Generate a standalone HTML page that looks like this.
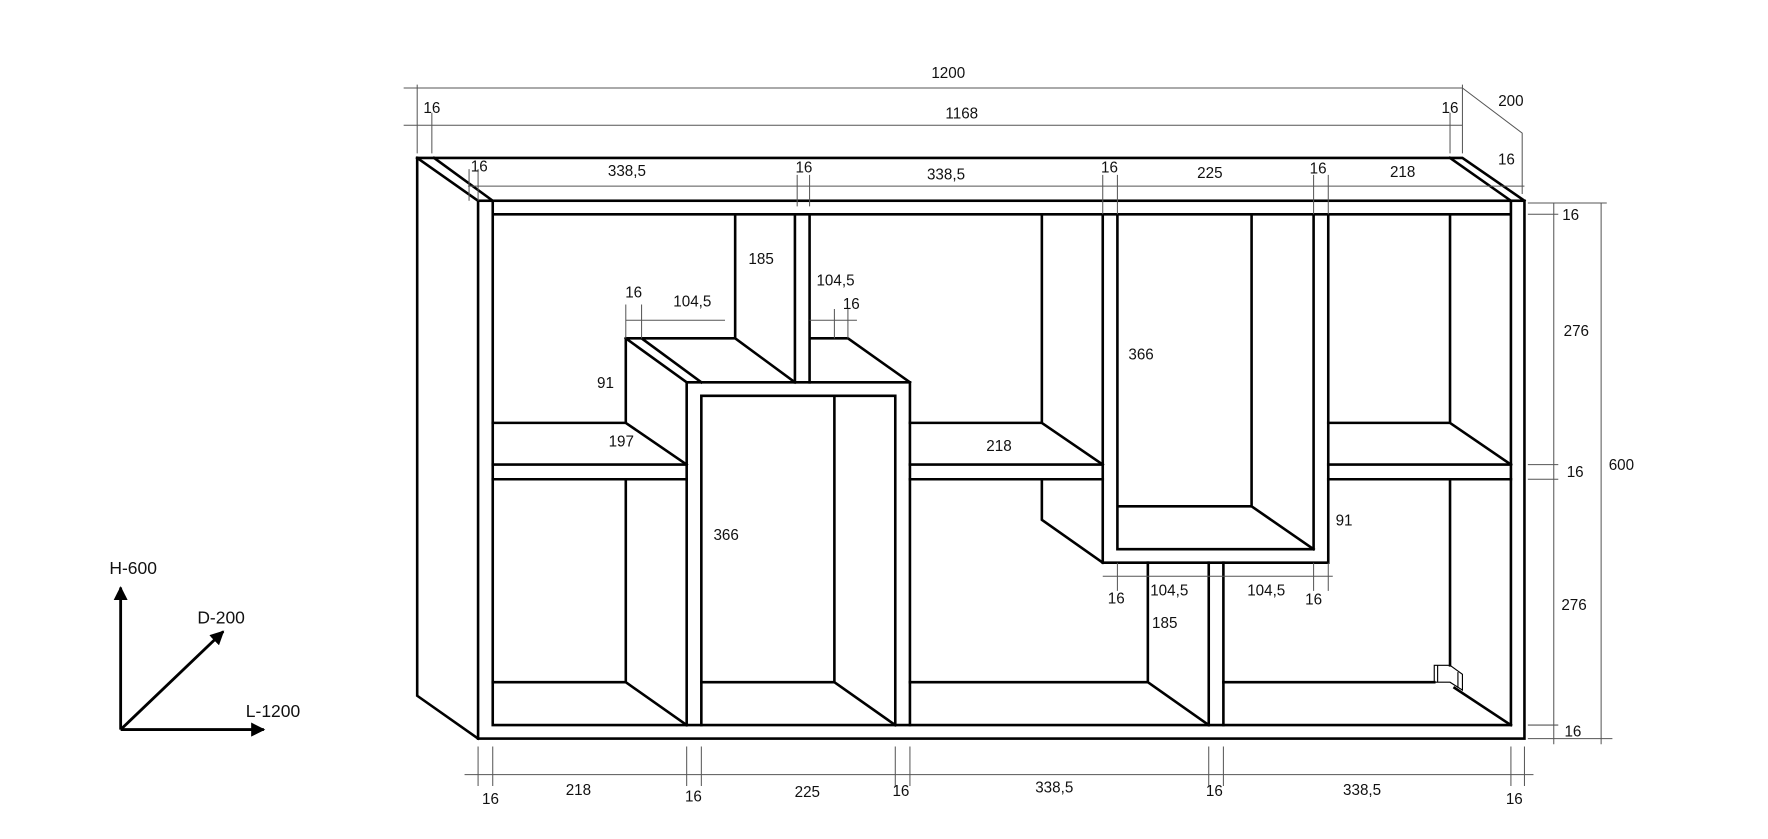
<!DOCTYPE html>
<html><head><meta charset="utf-8"><style>html,body{margin:0;padding:0;background:#fff}svg{display:block}</style></head><body>
<svg width="1768" height="839" viewBox="0 0 1568 744" xmlns="http://www.w3.org/2000/svg" font-family="Liberation Sans, DejaVu Sans, sans-serif" font-size="13.5" fill="#111">
<defs><marker id="ar" viewBox="0 0 10 10" refX="9" refY="5" markerWidth="5" markerHeight="5" orient="auto"><path d="M0,0L10,5L0,10z" fill="#000"/></marker></defs>
<g stroke="#000" stroke-width="2.3" fill="none" stroke-linecap="square">
<!-- outer -->
<path d="M370,140H1297L1352,178"/>
<path d="M370,140V617L424,655"/>
<path d="M370,140L424,178M385,140L437,178M1286,140L1340,178"/>
<rect x="424" y="178" width="928" height="477"/>
<path d="M437,178V643M1340,178V643M437,190H1340M437,643H1340"/>
<!-- middle shelves -->
<path d="M437,412H609M437,425H609M807,412H978M807,425H978M1178,412H1340M1178,425H1340"/>
<!-- center tall box -->
<path d="M609,339H807M622,351H794M609,339V643M622,351V643M794,351V643M807,339V643"/>
<path d="M555,300H652L705,339M555,300L609,339M569,300L622,339M652,190V300M705,190V339M718,190V339M718,300H752L807,339"/>
<path d="M555,300V375H437M555,375L609,412"/>
<path d="M555,425V605H437M555,605L609,643"/>
<path d="M740,351V605H622M740,605L794,643"/>
<!-- middle section -->
<path d="M924,190V375H807M924,375L978,412M924,425V461L978,499"/>
<!-- right hanging box -->
<path d="M978,190V499H1178V190M991,190V487H1165V190M1110,190V449H991M1110,449L1165,487"/>
<path d="M1072,499V643M1085,499V643M1018,499V605H807M1018,605L1072,643"/>
<path d="M1085,605H1272M1290,610L1340,643"/>
<!-- right section -->
<path d="M1286,190V375H1178M1286,375L1340,412M1286,425V590"/>
</g>
<g stroke="#000" stroke-width="1" fill="none">
<path d="M1272,590H1286L1297,598V612L1286,605H1272Z"/><path d="M1275,590V605M1293,596V610"/>
</g>
<!-- dimension lines -->
<g stroke="#555" stroke-width="0.9" fill="none">
<path d="M358,78H1297M370,75V136M1297,75V136M358,111H1297M383,100V136M1286,100V136"/>
<path d="M1297,78L1350,118V172"/>
<path d="M415,165H1352M416,150V178M424,150V178M707,155V183M718,155V183M978,155V190M991,155V190M1165,155V190M1178,155V190"/>
<path d="M1355,180H1425M1355,190H1382M1355,412H1382M1355,425H1382M1355,643H1382M1355,655H1430M1378,180V660M1420,180V660"/>
<path d="M412,687H1360M424,662V697M437,662V697M609,662V697M622,662V697M794,662V697M807,662V697M1072,662V697M1085,662V697M1340,662V697M1352,662V697"/>
<path d="M555,284H643M555,270V300M569,270V300M718,284H760M740,274V300M752,274V300"/>
<path d="M978,511H1182M991,499V524M1165,499V524M1178,499V524"/>
</g>
<!-- axes -->
<g stroke="#000" stroke-width="2.5" fill="none">
<path d="M107,647V521" marker-end="url(#ar)"/>
<path d="M107,647L198,560" marker-end="url(#ar)"/>
<path d="M107,647H234" marker-end="url(#ar)"/>
</g>
<g font-size="15.5"><text x="97" y="509">H-600</text><text x="175" y="553">D-200</text><text x="218" y="636">L-1200</text></g>
<!-- labels -->
<g text-anchor="middle">
<text x="841" y="69">1200</text><text x="383" y="100">16</text><text x="853" y="105">1168</text><text x="1286" y="100">16</text><text x="1340" y="94">200</text><text x="1336" y="146">16</text>
<text x="425" y="152">16</text><text x="556" y="156">338,5</text><text x="713" y="153">16</text><text x="839" y="159">338,5</text><text x="984" y="153">16</text><text x="1073" y="158">225</text><text x="1169" y="154">16</text><text x="1244" y="157">218</text>
<text x="1393" y="195">16</text><text x="1398" y="298">276</text><text x="1438" y="417">600</text><text x="1397" y="423">16</text><text x="1396" y="541">276</text><text x="1395" y="653">16</text>
<text x="435" y="713">16</text><text x="513" y="705">218</text><text x="615" y="711">16</text><text x="716" y="707">225</text><text x="799" y="706">16</text><text x="935" y="703">338,5</text><text x="1077" y="706">16</text><text x="1208" y="705">338,5</text><text x="1343" y="713">16</text>
<text x="675" y="234">185</text><text x="741" y="253">104,5</text><text x="562" y="264">16</text><text x="614" y="272">104,5</text><text x="755" y="274">16</text>
<text x="537" y="344">91</text><text x="551" y="396">197</text><text x="644" y="479">366</text><text x="886" y="400">218</text><text x="1012" y="319">366</text><text x="1192" y="466">91</text>
<text x="990" y="535">16</text><text x="1037" y="528">104,5</text><text x="1123" y="528">104,5</text><text x="1165" y="536">16</text><text x="1033" y="557">185</text>
</g>
</svg>
</body></html>
